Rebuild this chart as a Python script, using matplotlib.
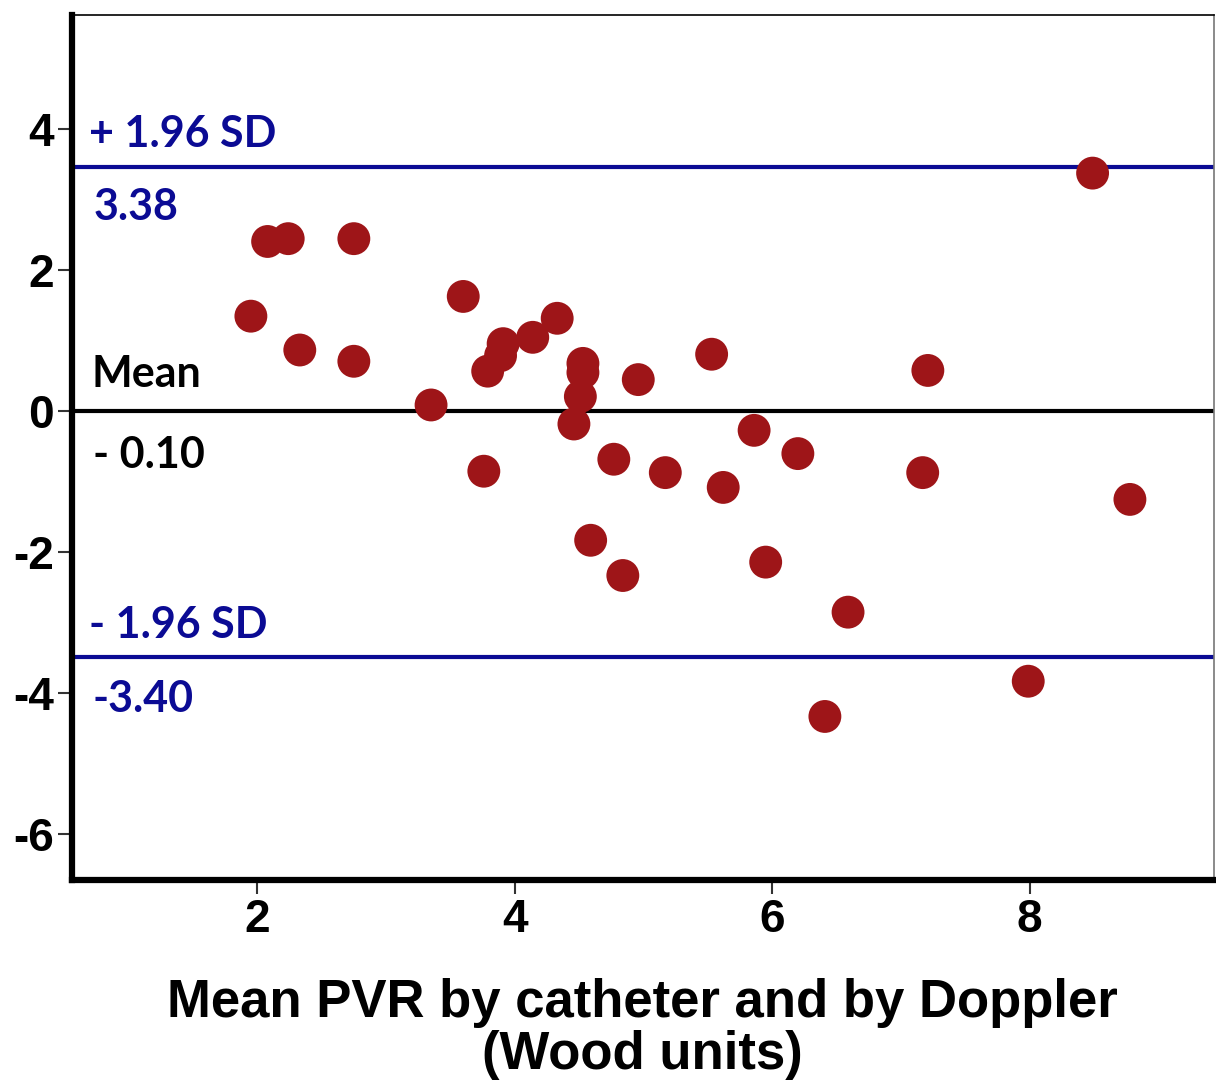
import matplotlib.pyplot as plt
import numpy as np

plt.rcParams['axes.unicode_minus'] = False

# Bland-Altman data: mean PVR (x) vs difference (y)
pvr_mean = [2.08, 2.24, 2.75, 1.95, 2.33, 2.75, 3.60, 3.35, 3.76, 3.79,
            3.89, 3.91, 4.14, 4.33, 4.53, 4.53, 4.51, 4.46, 4.96, 4.77,
            5.17, 5.53, 5.62, 5.86, 6.20, 4.59, 4.84, 5.95, 6.59, 6.41,
            7.17, 7.21, 7.99, 8.49, 8.78]
pvr_diff = [2.41, 2.45, 2.45, 1.35, 0.87, 0.71, 1.63, 0.09, -0.85, 0.57,
            0.79, 0.96, 1.05, 1.32, 0.68, 0.55, 0.21, -0.18, 0.45, -0.68,
            -0.87, 0.81, -1.08, -0.27, -0.60, -1.83, -2.33, -2.14, -2.85, -4.33,
            -0.87, 0.58, -3.83, 3.38, -1.25]

upper_loa = 3.46
mean_line = 0.0
lower_loa = -3.49

x_ticks = [2, 4, 6, 8]
y_ticks = [-6, -4, -2, 0, 2, 4]

navy = '#0b0b94'
red = '#9e1518'

fig = plt.figure(figsize=(12.16, 10.9), dpi=100)
ax = fig.add_axes([0.0592, 0.1927, 0.9388, 0.7933])

ax.axhline(upper_loa, color=navy, lw=3, zorder=1)
ax.axhline(lower_loa, color=navy, lw=3, zorder=1)
ax.axhline(mean_line, color='black', lw=3, zorder=1)

ax.scatter(pvr_mean, pvr_diff, s=560, color=red, edgecolors='none', zorder=3)

ax.set_xlim(0.56, 9.43)
ax.set_ylim(-6.65, 5.62)
ax.set_xticks(x_ticks)
ax.set_yticks(y_ticks)

for side in ['left', 'bottom']:
    ax.spines[side].set_linewidth(4.5)
    ax.spines[side].set_color('black')
ax.spines['top'].set_linewidth(1.2)
ax.spines['right'].set_linewidth(1.2)
ax.spines['right'].set_color('#777777')

ax.tick_params(axis='both', direction='out', length=10, width=1.5, color='#333333',
               labelsize=33, pad=3)
for lab in ax.get_xticklabels() + ax.get_yticklabels():
    lab.set_fontfamily(['Liberation Sans Narrow', 'Liberation Sans'])
    lab.set_fontweight('bold')

ax.set_xlabel('Mean PVR by catheter and by Doppler\n(Wood units)',
              fontsize=38, fontweight='bold', family='Liberation Sans',
              labelpad=26, linespacing=1.05)

tx = 0.69
lbl = dict(fontsize=31, fontweight='bold', family='Lato', va='baseline', ha='left')
ax.text(tx, 3.745, '+ 1.96 SD', color=navy, **lbl)
ax.text(tx + 0.04, 2.71, '3.38', color=navy, **lbl)
ax.text(tx + 0.02, 0.34, 'Mean', color='black', **lbl)
ax.text(tx + 0.03, -0.81, '- 0.10', color='black', **lbl)
ax.text(tx, -3.21, '- 1.96 SD', color=navy, **lbl)
ax.text(tx + 0.03, -4.26, '-3.40', color=navy, **lbl)

fig.savefig('out.png', dpi=100)
